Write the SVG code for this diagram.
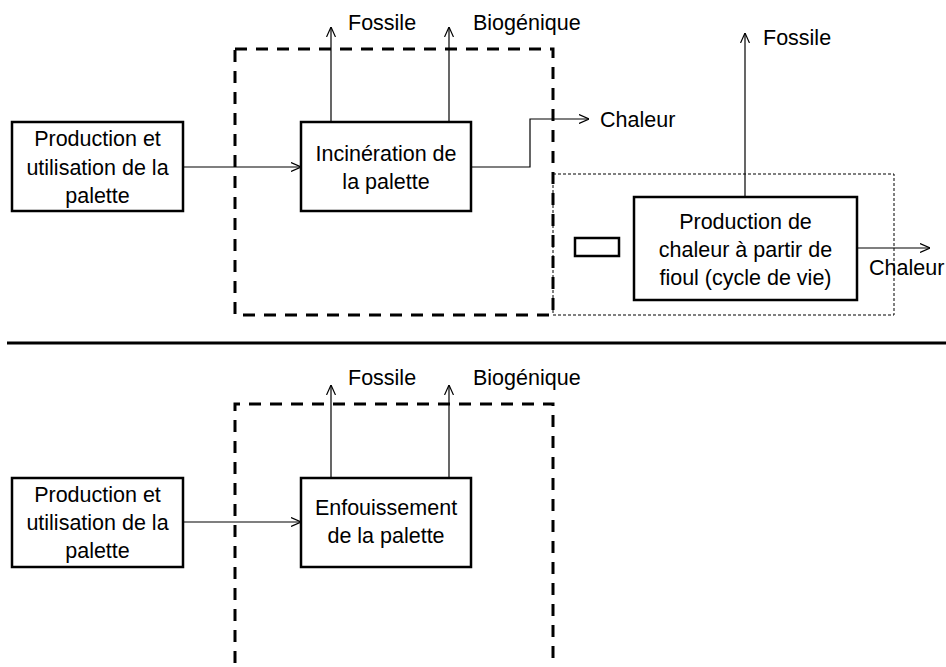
<svg xmlns="http://www.w3.org/2000/svg" width="946" height="667" viewBox="0 0 946 667">
<style>
text{font-family:"Liberation Sans",Arial,sans-serif;font-size:21.5px;fill:#000}
.c{text-anchor:middle}
.box{fill:#fff;stroke:#000;stroke-width:2.5}
.dash{fill:none;stroke:#000;stroke-width:3;stroke-dasharray:12 9}
.dot{fill:none;stroke:#000;stroke-width:1;stroke-dasharray:3 2}
.con{fill:none;stroke:#000;stroke-width:1.2;marker-end:url(#ar)}
</style>
<defs>
<marker id="ar" viewBox="0 0 10 10" refX="10" refY="5" markerWidth="10" markerHeight="10" markerUnits="userSpaceOnUse" orient="auto">
<path d="M0,0.5 L10,5 L0,9.5" fill="none" stroke="#000" stroke-width="1.2"/>
</marker>
</defs>
<g id="boundaries">
<rect class="dash" x="235" y="49" width="318" height="266"/>
<rect class="dot" x="553" y="174" width="341" height="141"/>
<path class="dash" d="M235,663 V404 H553 V663"/>
<line x1="7" y1="343" x2="946" y2="343" stroke="#000" stroke-width="3"/>
</g>
<g id="connectors">
<line class="con" x1="183" y1="167" x2="301" y2="167"/>
<line class="con" x1="331" y1="122" x2="331" y2="27"/>
<line class="con" x1="449" y1="122" x2="449" y2="27"/>
<path class="con" d="M471,167 H530 V119 H589"/>
<line class="con" x1="745" y1="197" x2="745" y2="33"/>
<line class="con" x1="857" y1="248" x2="930" y2="248"/>
<line class="con" x1="183" y1="522" x2="301" y2="522"/>
<line class="con" x1="331" y1="478" x2="331" y2="385"/>
<line class="con" x1="449" y1="478" x2="449" y2="385"/>
</g>
<g id="prod1">
<rect class="box" x="12" y="122" width="171" height="89"/>
<text class="c" x="97.5" y="146">Production et</text>
<text class="c" x="97.5" y="175">utilisation de la</text>
<text class="c" x="97.5" y="203">palette</text>
</g>
<g id="incineration">
<rect class="box" x="301" y="122" width="170" height="89"/>
<text class="c" x="386" y="161">Incinération de</text>
<text class="c" x="386" y="189">la palette</text>
</g>
<g id="minus">
<rect class="box" x="575" y="238" width="44" height="18"/>
</g>
<g id="fioul">
<rect class="box" x="634" y="197" width="223" height="103"/>
<text class="c" x="745.5" y="229">Production de</text>
<text class="c" x="745.5" y="257">chaleur à partir de</text>
<text class="c" x="745.5" y="285">fioul (cycle de vie)</text>
</g>
<g id="labels-top">
<text x="348" y="30">Fossile</text>
<text x="473" y="30">Biogénique</text>
<text x="600" y="127">Chaleur</text>
<text x="763" y="45">Fossile</text>
<text x="869" y="275">Chaleur</text>
</g>
<g id="prod2">
<rect class="box" x="12" y="478" width="171" height="89"/>
<text class="c" x="97.5" y="502">Production et</text>
<text class="c" x="97.5" y="530">utilisation de la</text>
<text class="c" x="97.5" y="558">palette</text>
</g>
<g id="enfouissement">
<rect class="box" x="301" y="478" width="170" height="89"/>
<text class="c" x="386" y="515">Enfouissement</text>
<text class="c" x="386" y="543">de la palette</text>
</g>
<g id="labels-bottom">
<text x="348" y="385">Fossile</text>
<text x="473" y="385">Biogénique</text>
</g>
</svg>
